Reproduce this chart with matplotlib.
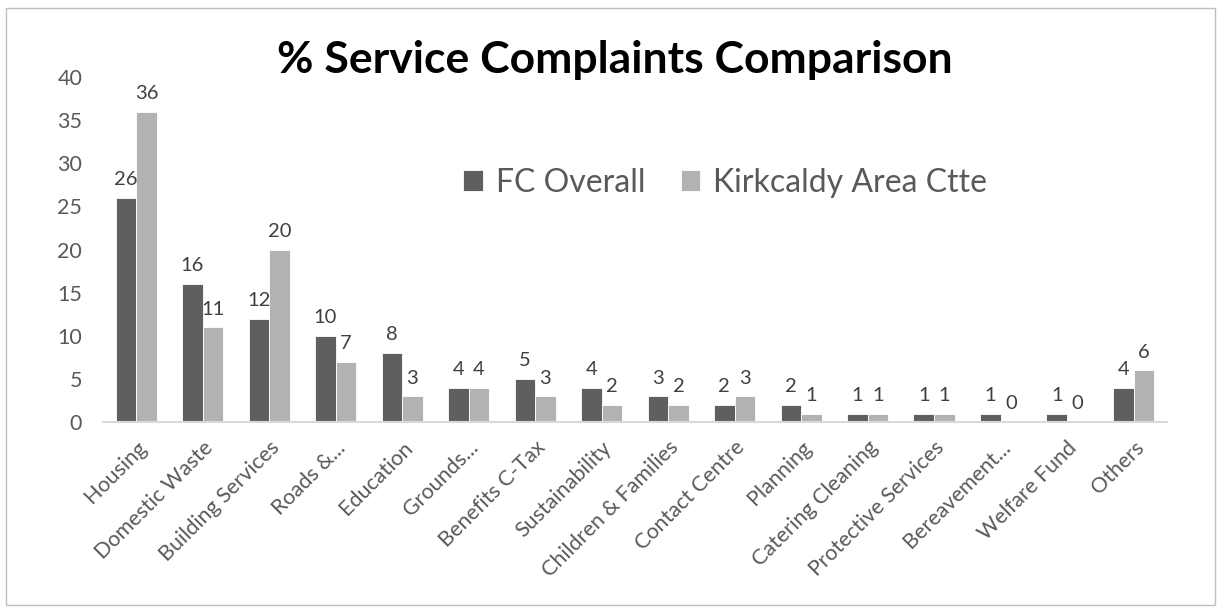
import matplotlib
matplotlib.use("Agg")
import matplotlib.pyplot as plt
import numpy as np
from matplotlib.patches import Rectangle

# Data
categories = ["Housing", "Domestic Waste", "Building Services", "Roads &...", "Education",
              "Grounds...", "Benefits C-Tax", "Sustainability", "Children & Families",
              "Contact Centre", "Planning", "Catering Cleaning", "Protective Services",
              "Bereavement...", "Welfare Fund", "Others"]
fc_overall = [26, 16, 12, 10, 8, 4, 5, 4, 3, 2, 2, 1, 1, 1, 1, 4]
kirkcaldy = [36, 11, 20, 7, 3, 4, 3, 2, 2, 3, 1, 1, 1, 0, 0, 6]
series_names = ["FC Overall", "Kirkcaldy Area Ctte"]

dark = "#5f5f5f"
light = "#b2b2b2"
text_col = "#595959"

plt.rcParams['font.family'] = ['Lato', 'DejaVu Sans']

fig = plt.figure(figsize=(12.2, 6.11), dpi=100)
ax = fig.add_axes([0.0844, 0.309, 0.872, 0.565])

# chart border
fig.patches.append(Rectangle((6 / 1220, 6 / 611), 1209 / 1220, 597 / 611, transform=fig.transFigure,
                             fill=False, edgecolor="#bfbfbf", linewidth=1.0))

x = np.arange(len(categories))
w = 0.31
b1 = ax.bar(x - w / 2, fc_overall, w, color=dark, edgecolor="white", linewidth=0.6, label=series_names[0])
b2 = ax.bar(x + w / 2, kirkcaldy, w, color=light, edgecolor="white", linewidth=0.6, label=series_names[1])

for bars in (b1, b2):
    ax.bar_label(bars, padding=7, fontsize=14.5, color="#404040")

ax.set_ylim(0, 40)
ax.set_xlim(-0.5, len(categories) - 0.5)
ax.set_yticks(range(0, 41, 5))
ax.set_xticks(x)
ax.set_xticklabels(categories, rotation=45, ha="right", rotation_mode="anchor")

for s in ["top", "right", "left"]:
    ax.spines[s].set_visible(False)
ax.spines["bottom"].set_color("#d9d9d9")
ax.spines["bottom"].set_linewidth(1.5)
ax.tick_params(axis="both", length=0, colors=text_col, labelsize=15.5)
ax.tick_params(axis="y", pad=15)
ax.tick_params(axis="x", pad=11)

fig.text(0.504, 0.902, "% Service Complaints Comparison", ha="center", va="center",
         fontsize=32, fontweight="bold", color="black")

leg = ax.legend(loc="center", bbox_to_anchor=(0.585, 0.693), ncol=2, frameon=False,
                fontsize=23, handlelength=0.62, handleheight=0.62, handletextpad=0.4,
                columnspacing=1.1, labelcolor=text_col)

fig.savefig("out.png", dpi=100)
